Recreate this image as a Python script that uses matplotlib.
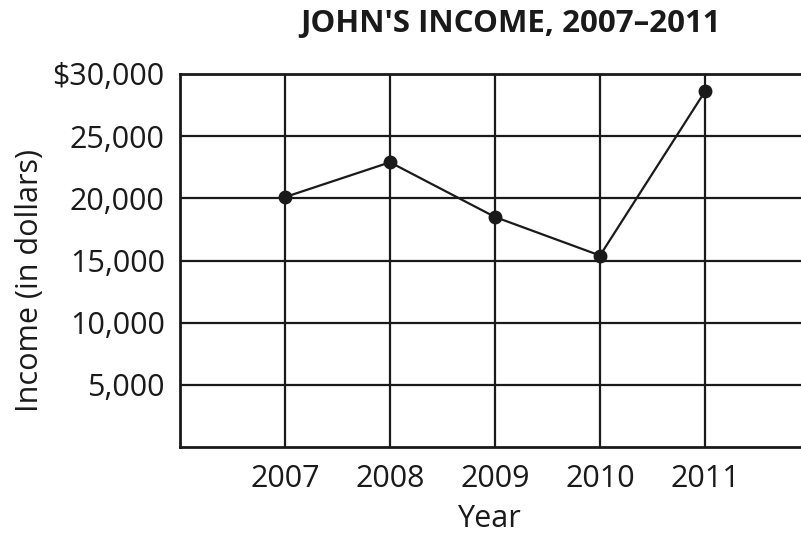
import matplotlib
matplotlib.use("Agg")
import matplotlib.pyplot as plt
from matplotlib.ticker import FuncFormatter

years = [2007, 2008, 2009, 2010, 2011]
income = [20100, 22900, 18500, 15400, 28600]
y_ticks = [5000, 10000, 15000, 20000, 25000, 30000]
title = "JOHN'S INCOME, 2007\u20132011"

plt.rcParams['font.family'] = ['Open Sans', 'DejaVu Sans']

fig = plt.figure(figsize=(8.01, 5.33), dpi=100)
ax = fig.add_axes([180/801, 1-447/533, 630/801, (447-74)/533])

ink = '#1a1a1a'
ax.set_xlim(2006, 2012)
ax.set_ylim(0, 30000)
ax.set_xticks(years)
ax.set_yticks(y_ticks)
ax.grid(True, color=ink, linewidth=1.6)
ax.set_axisbelow(True)
for s in ax.spines.values():
    s.set_color(ink)
    s.set_linewidth(2.0)

ax.plot(years, income, color=ink, linewidth=1.6, marker='o', markersize=9,
        markerfacecolor=ink, markeredgecolor=ink, zorder=3)

def fmt(v, pos):
    s = f"{int(v):,}"
    return "$" + s if v == 30000 else s

ax.yaxis.set_major_formatter(FuncFormatter(fmt))
ax.tick_params(axis='both', length=0, labelsize=22, colors=ink)
ax.tick_params(axis='y', pad=11)
ax.tick_params(axis='x', pad=12)
ax.set_xlabel("Year", fontsize=22, color=ink, va='center')
ax.xaxis.set_label_coords((489-180)/630, -(519-447)/373)
ax.set_ylabel("Income (in dollars)", fontsize=22, color=ink, va='center')
ax.yaxis.set_label_coords((30-180)/630, (447-281)/373)
fig.text(510/801, 1-24/533, title, fontsize=22.5, fontweight='bold', color=ink,
         ha='center', va='center')

fig.savefig("out.png", dpi=100)
